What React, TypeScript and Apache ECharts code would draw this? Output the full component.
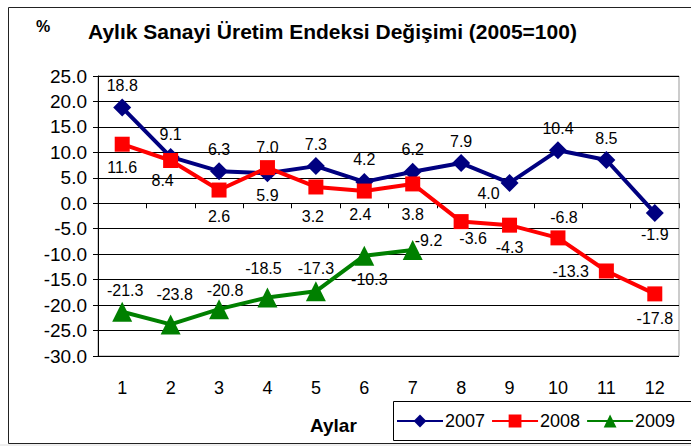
import React, { useEffect, useRef } from "react";
import * as echarts from "echarts";

const months = ["1", "2", "3", "4", "5", "6", "7", "8", "9", "10", "11", "12"];
const s2007 = [18.8, 9.1, 6.3, 5.9, 7.3, 4.2, 6.2, 7.9, 4.0, 10.4, 8.5, -1.9];
const s2008 = [11.6, 8.4, 2.6, 7.0, 3.2, 2.4, 3.8, -3.6, -4.3, -6.8, -13.3, -17.8];
const s2009 = [-21.3, -23.8, -20.8, -18.5, -17.3, -10.3, -9.2];
const seriesNames = ["2007", "2008", "2009"];
const yTicks = { min: -30, max: 25, interval: 5 };

// label placement (style only)
type LP = [string, number, number];
const lp2007: LP[] = [
  ["top", 0, 0], ["top", 0, 0], ["top", 0, 0], ["bottom", 0, 0], ["top", 0, 0], ["top", 0, 0],
  ["top", 0, 0], ["top", 0, 0], ["bottom", -21, -11], ["top", 0, 0], ["top", 0, 0], ["bottom", 0, 0],
];
const lp2008: LP[] = [
  ["bottom", 0, 3], ["bottom", -8, -1], ["bottom", 0, 6], ["top", 0, 0], ["bottom", -3, 9], ["bottom", -4, 3],
  ["bottom", 0, 10], ["bottom", 12, -4], ["bottom", 0, 2], ["top", 6, 0], ["left", -5, 1], ["bottom", 0, 4],
];
const lp2009: LP[] = [
  ["top", 3, 2], ["top", 4, -7], ["top", 6, 4], ["top", -4, -6], ["top", 0, 0], ["bottom", 5, 1], ["right", -13, -10],
];

const FONT = "'Liberation Sans', Arial, sans-serif";

function mk(values: number[], lp: LP[]) {
  return values.map((v, i) => ({
    value: v,
    label: { position: lp[i][0], offset: [lp[i][1], lp[i][2]] },
  }));
}

export default function App() {
  const ref = useRef<HTMLDivElement>(null);
  useEffect(() => {
    if (!ref.current) return;
    const chart = echarts.init(ref.current, undefined, { renderer: "svg" });
    const labelBase = {
      show: true,
      fontSize: 16,
      color: "#000",
      fontFamily: FONT,
      formatter: (p: any) => Number(p.value).toFixed(1),
    };
    chart.setOption({
      animation: false,
      backgroundColor: "#fff",
      textStyle: { fontFamily: FONT },
      graphic: [
        { type: "rect", shape: { x: 0, y: 444, width: 691, height: 2 }, style: { fill: "#eeeeee" }, z: -10 },
        { type: "rect", shape: { x: 8.5, y: 7.5, width: 700, height: 436 }, style: { fill: "none", stroke: "#222", lineWidth: 1 }, z: -5 },
        { type: "text", left: 36, top: 18, style: { text: "%", fontSize: 16, fontWeight: "bold", fill: "#000", fontFamily: FONT } },
        { type: "text", left: 88, top: 21, style: { text: "Aylık Sanayi Üretim Endeksi Değişimi (2005=100)", fontSize: 21, fontWeight: "bold", fill: "#000", fontFamily: FONT } },
        { type: "text", left: 310, top: 416, style: { text: "Aylar", fontSize: 19, fontWeight: "bold", fill: "#000", fontFamily: FONT } },
        { type: "rect", shape: { x: 393.5, y: 401.5, width: 320, height: 39 }, style: { fill: "#fff", stroke: "#000", lineWidth: 1 }, z: 5 },
      ],
      legend: {
        data: seriesNames,
        left: 396,
        top: 412,
        itemWidth: 46,
        itemHeight: 16,
        itemGap: 6,
        padding: 0,
        z: 10,
        textStyle: { fontSize: 18, color: "#000", fontFamily: FONT, padding: [0, 0, 0, -3] },
      },
      grid: { left: 98, top: 76, width: 581, height: 280, show: true, borderColor: "#999", borderWidth: 1, containLabel: false },
      xAxis: [
        {
          type: "category",
          data: months,
          boundaryGap: true,
          axisLine: { onZero: true, lineStyle: { color: "#000", width: 1 } },
          axisTick: { show: true, inside: false, length: 5, lineStyle: { color: "#000" } },
          axisLabel: { show: false },
        },
        {
          type: "category",
          data: months,
          position: "bottom",
          boundaryGap: true,
          axisLine: { show: false, onZero: false },
          axisTick: { show: false },
          axisLabel: { show: true, fontSize: 18, color: "#000", margin: 23, fontFamily: FONT },
        },
      ],
      yAxis: {
        type: "value",
        min: yTicks.min,
        max: yTicks.max,
        interval: yTicks.interval,
        axisLine: { show: true, lineStyle: { color: "#000", width: 1 } },
        axisTick: { show: true, length: 5, lineStyle: { color: "#000" } },
        splitLine: { show: true, lineStyle: { color: "#000", width: 1 } },
        axisLabel: { fontSize: 19, color: "#000", margin: 11, fontFamily: FONT, formatter: (v: number) => v.toFixed(1) },
      },
      series: [
        {
          name: seriesNames[0],
          type: "line",
          data: mk(s2007, lp2007),
          symbol: "diamond",
          symbolSize: 18,
          lineStyle: { color: "#000080", width: 4 },
          itemStyle: { color: "#000080" },
          label: labelBase,
          z: 3,
        },
        {
          name: seriesNames[1],
          type: "line",
          data: mk(s2008, lp2008),
          symbol: "rect",
          symbolSize: 15,
          lineStyle: { color: "#ff0000", width: 4 },
          itemStyle: { color: "#ff0000" },
          label: labelBase,
          z: 4,
        },
        {
          name: seriesNames[2],
          type: "line",
          data: mk(s2009, lp2009),
          symbol: "triangle",
          symbolSize: 20,
          lineStyle: { color: "#008000", width: 4 },
          itemStyle: { color: "#008000" },
          label: labelBase,
          z: 5,
        },
      ],
    });
    return () => chart.dispose();
  }, []);
  return <div ref={ref} style={{ position: "absolute", left: 0, top: 0, width: 691, height: 446 }} />;
}
